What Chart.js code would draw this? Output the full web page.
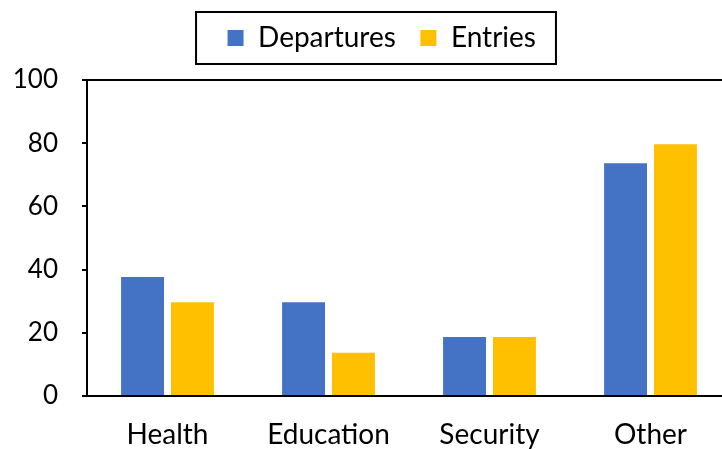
<!DOCTYPE html>
<html>
<head>
<meta charset="utf-8">
<script src="https://cdn.jsdelivr.net/npm/chart.js@4.4.1/dist/chart.umd.min.js"></script>
<style>
html,body{margin:0;padding:0;background:#fff;overflow:hidden;width:722px;height:449px;}
#wrap{position:absolute;left:0;top:0;width:740px;height:449px;}
</style>
</head>
<body>
<div id="wrap"><canvas id="c" width="740" height="449"></canvas></div>
<script>
const categories = ["Health", "Education", "Security", "Other"];
const departures = [38, 30, 19, 74];
const entries = [30, 14, 19, 80];
const yTicks = [0, 20, 40, 60, 80, 100];

const FONT = "Lato, 'Noto Sans', sans-serif";

// extra gap below the legend box and a small horizontal offset
const legendGap = {
  id: 'legendGap',
  beforeLayout(chart) {
    const lg = chart.legend;
    if (lg && !lg._gapPatched) {
      const f = lg.fit.bind(lg);
      lg.fit = function () { f(); this.height += 18; };
      lg._gapPatched = true;
    }
  },
  afterLayout(chart) {
    const lg = chart.legend;
    if (lg) { lg.left += 32; }
  }
};

const legendBox = {
  id: 'legendBox',
  afterDraw(chart) {
    const lg = chart.legend;
    if (!lg || !lg.legendHitBoxes || !lg.legendHitBoxes.length) return;
    const hb = lg.legendHitBoxes;
    const first = hb[0], last = hb[hb.length - 1];
    const cy = first.top + first.height / 2;
    const x0 = first.left - 31, x1 = last.left + last.width + 20;
    const ctx = chart.ctx;
    ctx.save();
    ctx.strokeStyle = '#000';
    ctx.lineWidth = 2;
    ctx.strokeRect(x0, cy - 26, x1 - x0, 52);
    ctx.restore();
  }
};

const plotBorder = {
  id: 'plotBorder',
  afterDatasetsDraw(chart) {
    const a = chart.chartArea;
    const ctx = chart.ctx;
    ctx.save();
    ctx.strokeStyle = '#000';
    ctx.lineWidth = 2;
    ctx.beginPath();
    ctx.moveTo(a.left, a.bottom);
    ctx.lineTo(a.left, a.top);
    ctx.lineTo(a.right, a.top);
    ctx.lineTo(a.right, a.bottom);
    ctx.lineTo(a.left, a.bottom);
    ctx.stroke();
    ctx.restore();
  }
};

new Chart(document.getElementById('c'), {
  type: 'bar',
  data: {
    labels: categories,
    datasets: [
      { label: 'Departures', data: departures, backgroundColor: '#4472C4', borderColor: '#ffffff', borderWidth: 1,
        categoryPercentage: 0.62, barPercentage: 0.9 },
      { label: 'Entries', data: entries, backgroundColor: '#FFC000', borderColor: '#ffffff', borderWidth: 1,
        categoryPercentage: 0.62, barPercentage: 0.9 }
    ]
  },
  options: {
    responsive: false,
    animation: false,
    devicePixelRatio: 1,
    layout: { padding: { left: 0, right: 9, top: 0, bottom: 0 } },
    plugins: {
      legend: {
        display: true,
        position: 'top',
        labels: {
          font: { family: FONT, size: 28 },
          color: '#000',
          boxWidth: 17,
          boxHeight: 17,
          padding: 24,
          useBorderRadius: false
        }
      },
      tooltip: { enabled: false },
      title: { display: false }
    },
    scales: {
      x: {
        grid: { display: false, drawTicks: false },
        border: { display: true, color: '#000', width: 2 },
        ticks: { font: { family: FONT, size: 28 }, color: '#000', padding: 22, maxRotation: 0 },
        afterFit(scale) { scale.height = 53; }
      },
      y: {
        min: 0, max: 100,
        afterBuildTicks(scale) { scale.ticks = yTicks.map(v => ({ value: v })); },
        grid: { display: true, drawOnChartArea: false, drawTicks: true, tickLength: 5, color: '#000', lineWidth: 2 },
        border: { display: true, color: '#000', width: 2 },
        ticks: { font: { family: FONT, size: 26 }, color: '#000', padding: 24 },
        afterFit(scale) { scale.width = 87; }
      }
    }
  },
  plugins: [legendGap, legendBox, plotBorder]
});
</script>
</body>
</html>
